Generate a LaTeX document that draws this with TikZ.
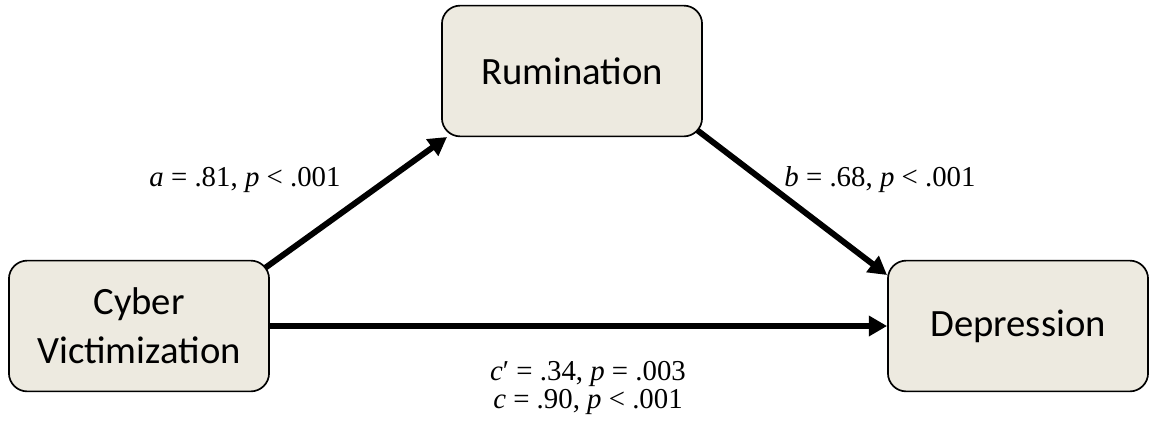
\documentclass[tikz,border=0pt]{standalone}
\usepackage{fontspec}
\setmainfont{Liberation Serif}
\newfontfamily\boxfont{Carlito}
\usetikzlibrary{arrows.meta}
\begin{document}
\begin{tikzpicture}[x=0.025cm,y=-0.025cm,
  box/.style={draw=black,line width=1.2pt,fill={rgb,255:red,237;green,234;blue,224},rounded corners=13pt,minimum width=185pt,minimum height=93pt,align=center,font=\boxfont\fontsize{27.5}{35}\selectfont,inner sep=0pt},
  arr/.style={line width=4.2pt,-{Triangle[length=13pt,width=14pt]}},
  lab/.style={font=\fontsize{20.5}{23}\selectfont}]
\useasboundingbox (0,0) rectangle (1163,429);
\node[box] (r) at (572,71) {Rumination};
\node[box] (c) at (139,326) {Cyber\\Victimization};
\node[box] (d) at (1018,326) {Depression};
\coordinate (a1) at (265,268);
\coordinate (a2) at (447,137);
\coordinate (b1) at (697,130);
\coordinate (b2) at (887,275);
\draw[arr] (a1) -- (a2);
\draw[arr] (b1) -- (b2);
\draw[arr] (c.east) -- (d.west);
\node[lab] (la) at (245,180) {\textit{a} = .81, \textit{p} < .001};
\node[lab] (lb) at (880,180) {\textit{b} = .68, \textit{p} < .001};
\node[lab] (lc1) at (588,374) {\textit{c}′ = .34, \textit{p} = .003};
\node[lab] (lc2) at (588,402) {\textit{c} = .90, \textit{p} < .001};
\end{tikzpicture}
\end{document}
